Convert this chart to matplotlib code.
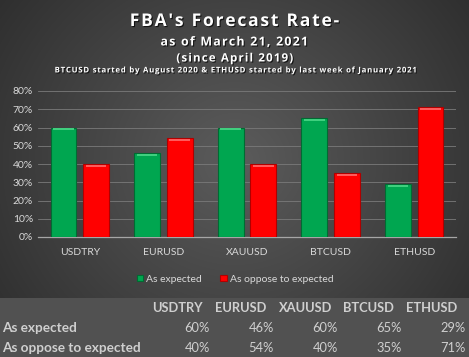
import matplotlib.pyplot as plt
import matplotlib.patheffects as pe
import numpy as np

categories = ['USDTRY', 'EURUSD', 'XAUUSD', 'BTCUSD', 'ETHUSD']
as_expected = [0.60, 0.46, 0.60, 0.65, 0.29]
as_oppose = [0.40, 0.54, 0.40, 0.35, 0.71]
yticks = [0.0, 0.1, 0.2, 0.3, 0.4, 0.5, 0.6, 0.7, 0.8]

plt.rcParams['font.family'] = ['Lato', 'DejaVu Sans']

W, H = 469, 357
fig = plt.figure(figsize=(W / 100, H / 100), dpi=100)

# background: radial grey gradient for chart area, flat grey for the table
bg = fig.add_axes([0, 0, 1, 1])
yy, xx = np.mgrid[0:H, 0:W]
r = np.sqrt(((xx - W * 0.5) / (W * 0.6)) ** 2 + ((yy - H * 0.45) / (H * 0.75)) ** 2)
shade = np.clip(0.36 - 0.17 * r, 0.17, 0.36)
img = np.dstack([shade, shade, shade])
img[298:, :, :] = 0.32
bg.imshow(img, extent=[0, W, H, 0], aspect='auto')
bg.set_xlim(0, W)
bg.set_ylim(H, 0)
bg.axis('off')

title_fx = [pe.withSimplePatchShadow(offset=(0.8, -0.8), shadow_rgbFace='black', alpha=0.7)]

def title_text(y, s, size, spacing=''):
    if spacing:
        s = spacing.join(s)
    bg.text(W / 2, y, s, ha='center', va='center', color='white', fontsize=size,
            fontweight='bold', family=['Open Sans', 'DejaVu Sans'], path_effects=title_fx)

title_text(21, "FBA's Forecast Rate-", 12.6, '\u200a')
title_text(42, "as of March 21, 2021", 8.9, '\u200a')
title_text(58, "(since April 2019)", 8.3, '\u200a')
title_text(70, "BTCUSD started by August 2020 & ETHUSD started by last week of January 2021", 5.6, '\u200a')

# chart
ax = fig.add_axes([38 / W, 1 - 237 / H, 418 / W, 146 / H])
ax.set_facecolor('none')
x = np.arange(len(categories))
w = 0.31
off = 0.195
gb = ax.bar(x - off, as_expected, w, color='#00a650', edgecolor='#006b32', linewidth=0.8, zorder=3)
rb = ax.bar(x + off, as_oppose, w, color='#ff0000', edgecolor='#b00000', linewidth=0.8, zorder=3)
# bevel highlights on top of each bar
ax.bar(x - off, [0.01] * len(x), w * 0.8, bottom=np.array(as_expected) - 0.014, color='#3fcf7e', linewidth=0, zorder=4)
ax.bar(x + off, [0.01] * len(x), w * 0.8, bottom=np.array(as_oppose) - 0.014, color='#ff5a5a', linewidth=0, zorder=4)

ax.set_xlim(-0.5, len(categories) - 0.5)
ax.set_ylim(0, 0.8)
ax.set_yticks(yticks)
ax.set_yticklabels([f'{int(round(t * 100))}%' for t in yticks])
ax.set_xticks(x)
ax.set_xticklabels(categories)
ax.tick_params(colors='#d9d9d9', labelsize=7.5, length=0)
ax.tick_params(axis='x', pad=8)
ax.grid(axis='y', color='#7a7a7a', linewidth=0.6, zorder=0)
for s in ['top', 'right', 'left']:
    ax.spines[s].set_visible(False)
ax.spines['bottom'].set_color('#a6a6a6')
ax.spines['bottom'].set_linewidth(0.9)

# legend
leg = ax.legend([gb, rb], ['As expected', 'As oppose to expected'], loc='center',
                bbox_to_anchor=(235 / W, 1 - 279 / H), bbox_transform=fig.transFigure,
                ncol=2, frameon=False, fontsize=7.5, labelcolor='#d9d9d9',
                handlelength=0.6, handleheight=0.6, handletextpad=0.3, columnspacing=1.8)

# data table
col_right = [210, 274, 338, 402, 466]
col_center = [177, 241, 306, 368, 432]
tc = '#cfcfcf'
for c, name in zip(col_center, categories):
    bg.text(c, 308, name, ha='center', va='center', color=tc, fontsize=9.3, fontweight='bold')
bg.text(2, 328, 'As expected', ha='left', va='center', color=tc, fontsize=9.8, fontweight='bold')
bg.text(2, 348, 'As oppose to expected', ha='left', va='center', color=tc, fontsize=9.8, fontweight='bold')
for xr, a, b in zip(col_right, as_expected, as_oppose):
    bg.text(xr, 328, f'{int(round(a * 100))}%', ha='right', va='center', color=tc, fontsize=9.3)
    bg.text(xr, 348, f'{int(round(b * 100))}%', ha='right', va='center', color=tc, fontsize=9.3)

fig.savefig('out.png', dpi=100)
